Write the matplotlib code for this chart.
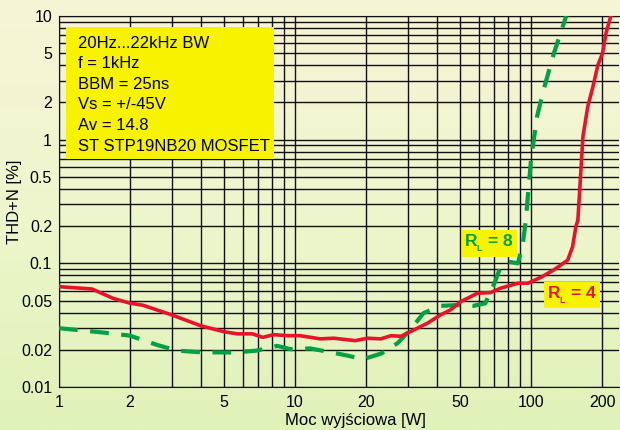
"""THD+N vs output power (1 kHz) for two loads, log-log with a dense paper-style grid."""
import numpy as np
import matplotlib
matplotlib.use("Agg")
import matplotlib.pyplot as plt
from matplotlib.patches import Rectangle
from matplotlib.colors import LinearSegmentedColormap

plt.rcParams["font.family"] = ["Liberation Sans", "DejaVu Sans"]
plt.rcParams["mathtext.fontset"] = "custom"
plt.rcParams["mathtext.rm"] = "Liberation Sans:bold"

# R_L = 4 ohm (solid red)
p4 = [1.0, 1.38, 1.69, 2.0, 2.27, 3.0, 4.0, 5.0, 5.7, 6.6, 7.3, 8.1, 9.3, 10.5, 12.8, 14.6,
      18.0, 20.3, 23.1, 25.5, 28.1, 30.8, 36.4, 41.4, 45.6, 50.4, 59.3, 67.4, 74.4, 88, 97,
      110, 125, 143, 150, 155, 158, 166, 174, 183, 192, 201, 208, 218]
thd4 = [0.0648, 0.062, 0.0522, 0.0476, 0.0458, 0.0383, 0.0312, 0.028, 0.0269, 0.0269, 0.0252,
        0.0265, 0.026, 0.026, 0.0245, 0.0248, 0.0237, 0.0248, 0.0245, 0.026, 0.0257, 0.028,
        0.0328, 0.0383, 0.042, 0.049, 0.0573, 0.058, 0.063, 0.069, 0.069, 0.077, 0.0885,
        0.106, 0.136, 0.198, 0.224, 1.06, 1.85, 2.68, 4.0, 5.0, 7.3, 10.0]

# R_L = 8 ohm (dashed green)
p8 = [1.0, 1.65, 2.0, 2.6, 3.16, 3.97, 5.5, 6.9, 8.4, 9.6, 11.6, 12.8, 16.1, 19.5, 23.1,
      27.2, 30.8, 35, 41.4, 49, 57, 64, 70, 74.4, 80.6, 88, 92.4, 95.1, 100, 106, 113, 125, 141]
thd8 = [0.0299, 0.0272, 0.026, 0.0219, 0.0197, 0.0191, 0.019, 0.0197, 0.0215, 0.0202, 0.0205,
        0.0198, 0.0182, 0.0168, 0.0186, 0.0226, 0.029, 0.0395, 0.0453, 0.046, 0.0453, 0.0475,
        0.069, 0.094, 0.103, 0.1, 0.145, 0.224, 0.686, 1.53, 2.52, 4.99, 10.0]

xticks = [1, 2, 5, 10, 20, 50, 100, 200]
yticks = [0.01, 0.02, 0.05, 0.1, 0.2, 0.5, 1, 2, 5, 10]
info_lines = ["20Hz...22kHz BW", "f = 1kHz", "BBM = 25ns", "Vs = +/-45V", "Av = 14.8",
              "ST STP19NB20 MOSFET"]
load_values = ["8", "4"]

RED = "#e8132b"
GREEN = "#00a144"
YELLOW = "#f7f200"

fig = plt.figure(figsize=(6.2, 4.3), dpi=100)

# page background: cream at top fading to light green at the bottom
bg = fig.add_axes([0, 0, 1, 1], zorder=-10)
grad = np.linspace(0, 1, 256).reshape(-1, 1)
bg.imshow(grad, aspect="auto", extent=[0, 1, 0, 1], origin="upper",
          cmap=LinearSegmentedColormap.from_list("bg", ["#f6f4d6", "#eef6cc", "#dff2b8"]))
bg.axis("off")

ax = fig.add_axes([59 / 620, 1 - 387 / 430, 560 / 620, 371 / 430])
ax.set_facecolor("none")
ax.set_xscale("log"); ax.set_yscale("log")
ax.set_xlim(1, 236); ax.set_ylim(0.01, 10)

# dense grid: every 1..9 subdivision in both directions
xs = [m * 10 ** d for d in range(0, 3) for m in range(1, 10) if m * 10 ** d <= 236]
ys = [m * 10 ** d for d in range(-2, 1) for m in range(1, 10)] + [10]
for v in xs:
    ax.axvline(v, color="#111111", lw=1.0, zorder=1)
for v in ys:
    ax.axhline(v, color="#111111", lw=1.0, zorder=1)

ax.plot(p8, thd8, color=GREEN, lw=3, dashes=(4.5, 3), zorder=3)
ax.plot(p4, thd4, color=RED, lw=2.6, zorder=4)

ax.set_xticks(xticks, [f"{t:g}" for t in xticks])
ax.set_yticks(yticks, [f"{t:g}" for t in yticks])
ax.minorticks_off()
ax.tick_params(length=0, labelsize=11.5)
ax.tick_params(axis="x", pad=6)
ax.tick_params(axis="y", pad=5)
ax.spines["right"].set_visible(False)
for s in ("left", "bottom", "top"):
    ax.spines[s].set_color("#111111")
ax.set_xlabel("Moc wyjściowa [W]", fontsize=12)
ax.set_ylabel("THD+N [%]", fontsize=12)
ax.xaxis.set_label_coords(0.530, -0.069)
ax.yaxis.set_label_coords(-0.066, 0.5)

# info box
ax.add_patch(Rectangle((0.0125, 0.6146), 0.371, 0.356, transform=ax.transAxes,
                       facecolor=YELLOW, edgecolor="none", zorder=5))
for i, line in enumerate(info_lines):
    ax.text(0.034, 0.927 - i * 0.0555, line, transform=ax.transAxes, fontsize=12,
            va="center", ha="left", zorder=6)

# load labels "R_L = n" on yellow; doubly-nested subscript keeps the L tiny
for val, pos, col in zip(load_values, [(0.724, 0.387), (0.871, 0.248)], (GREEN, RED)):
    ax.text(*pos, r"R$_{_{\mathregular{L}}}$ = " + val, transform=ax.transAxes, color=col,
            fontsize=12.5, fontweight="bold", ha="left", va="center", zorder=6,
            bbox=dict(facecolor=YELLOW, edgecolor="none", pad=2))

fig.savefig("out.png", dpi=100)
